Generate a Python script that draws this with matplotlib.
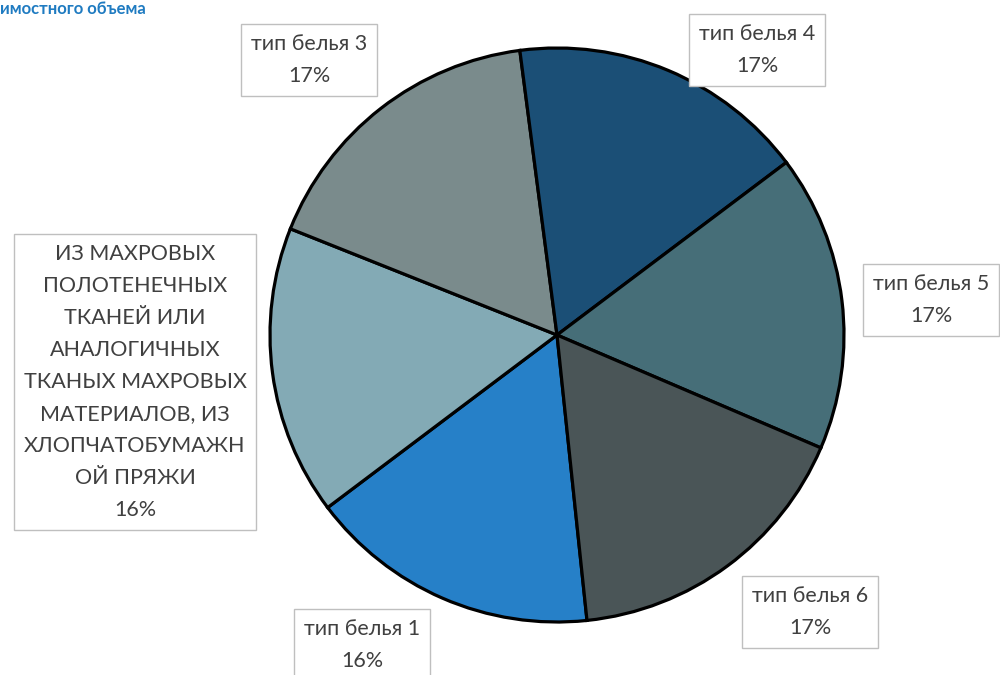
import matplotlib.pyplot as plt

# data
labels = ["тип белья 1",
          "ИЗ МАХРОВЫХ\nПОЛОТЕНЕЧНЫХ\nТКАНЕЙ ИЛИ\nАНАЛОГИЧНЫХ\nТКАНЫХ МАХРОВЫХ\nМАТЕРИАЛОВ, ИЗ\nХЛОПЧАТОБУМАЖН\nОЙ ПРЯЖИ",
          "тип белья 3", "тип белья 4", "тип белья 5", "тип белья 6"]
values = [16.4, 16.3, 16.9, 16.8, 16.7, 16.9]
colors = ["#2680C8", "#83AAB5", "#7A8B8C", "#1B4F76", "#466E78", "#4A5557"]

# label box centres in pixels (x from left, y from top)
label_pos = [(362, 645), (135, 382), (309, 60), (757, 50), (931, 300), (810, 612)]

plt.rcParams['font.family'] = ['Lato', 'DejaVu Sans']

fig = plt.figure(figsize=(10, 6.75), dpi=100)
ax = fig.add_axes([0, 0, 1, 1])

ax.pie(values, colors=colors, startangle=-84, counterclock=False,
       center=(557, 340), radius=287,
       wedgeprops=dict(edgecolor='black', linewidth=2.3), frame=True)
ax.set_xlim(0, 1000)
ax.set_ylim(0, 675)
ax.set_aspect('equal')
ax.axis('off')

for lab, v, (px, py) in zip(labels, values, label_pos):
    ax.text(px, 675 - py, f"{lab}\n{round(v):d}%", ha='center', va='center',
            fontsize=15.5, color='#404040', linespacing=1.75,
            bbox=dict(boxstyle='square,pad=0.45', fc='white', ec='#BFBFBF', lw=1))

fig.text(0.0, 0.999, "имостного объема", ha='left', va='top',
         fontsize=12, fontweight='bold', color='#1F7BC1')

fig.savefig('out.png', dpi=100)
